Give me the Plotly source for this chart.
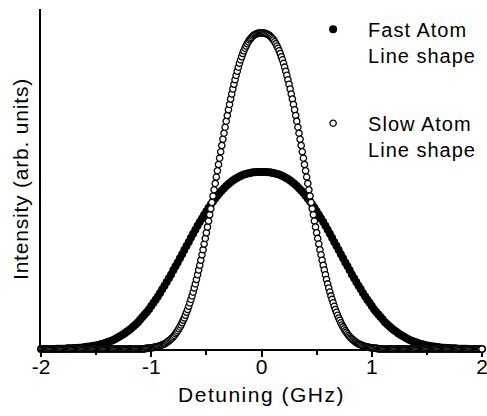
import numpy as np
import plotly.graph_objects as go

# Intensity (arb. units; slow-atom peak = 1.0)
# Fast atom line shape, sampled every 0.02 GHz from -2 to 2 GHz
intensity_fast = [
    0, 0, 0, 0, 0, 0, 0,
    0.001, 0.001, 0.001, 0.001, 0.001,
    0.002, 0.002, 0.002,
    0.003, 0.003, 0.004, 0.004, 0.005, 0.006, 0.007, 0.008, 0.009, 0.010,
    0.011, 0.013, 0.015, 0.016, 0.019, 0.021, 0.024, 0.026, 0.029, 0.033,
    0.037, 0.041, 0.045, 0.050, 0.055, 0.060, 0.066, 0.072, 0.078, 0.085,
    0.093, 0.101, 0.109, 0.117, 0.126, 0.136, 0.146, 0.156, 0.166, 0.177,
    0.189, 0.200, 0.212, 0.224, 0.236, 0.249, 0.262, 0.274, 0.287, 0.300,
    0.313, 0.326, 0.339, 0.352, 0.365, 0.377, 0.390, 0.402, 0.413, 0.425,
    0.436, 0.447, 0.457, 0.467, 0.476, 0.485, 0.494, 0.502, 0.509, 0.516,
    0.522, 0.528, 0.533, 0.538, 0.542, 0.546, 0.549, 0.552, 0.554, 0.556,
    0.557, 0.559, 0.559, 0.560, 0.560,
    0.560,
    0.560, 0.560, 0.559, 0.559, 0.557,
    0.556, 0.554, 0.552, 0.549, 0.546, 0.542, 0.538, 0.533, 0.528, 0.522,
    0.516, 0.509, 0.502, 0.494, 0.485, 0.476, 0.467, 0.457, 0.447, 0.436,
    0.425, 0.413, 0.402, 0.390, 0.377, 0.365, 0.352, 0.339, 0.326, 0.313,
    0.300, 0.287, 0.274, 0.262, 0.249, 0.236, 0.224, 0.212, 0.200, 0.189,
    0.177, 0.166, 0.156, 0.146, 0.136, 0.126, 0.117, 0.109, 0.101, 0.093,
    0.085, 0.078, 0.072, 0.066, 0.060, 0.055, 0.050, 0.045, 0.041, 0.037,
    0.033, 0.029, 0.026, 0.024, 0.021, 0.019, 0.016, 0.015, 0.013, 0.011,
    0.010, 0.009, 0.008, 0.007, 0.006, 0.005, 0.004, 0.004, 0.003, 0.003,
    0.002, 0.002, 0.002,
    0.001, 0.001, 0.001, 0.001, 0.001,
    0, 0, 0, 0, 0, 0, 0,
]

# Slow atom line shape, sampled every 0.01 GHz from -2 to 2 GHz
intensity_slow = [
    0, 0, 0, 0, 0, 0, 0, 0, 0, 0, 0, 0, 0, 0, 0, 0, 0, 0, 0, 0,
    0, 0, 0, 0, 0, 0, 0, 0, 0, 0, 0, 0, 0, 0, 0, 0, 0, 0, 0, 0,
    0, 0, 0, 0, 0, 0, 0, 0, 0, 0, 0, 0, 0, 0, 0, 0, 0, 0, 0, 0,
    0, 0, 0, 0, 0, 0, 0, 0, 0, 0, 0, 0, 0, 0, 0, 0, 0, 0, 0, 0,
    0, 0, 0, 0, 0, 0, 0, 0, 0, 0, 0, 0, 0, 0, 0,
    0.002, 0.002, 0.002, 0.003, 0.003,
    0.004, 0.004, 0.005, 0.005, 0.006, 0.007, 0.008, 0.009, 0.010, 0.012,
    0.013, 0.015, 0.016, 0.018, 0.021, 0.023, 0.026, 0.029, 0.032, 0.035,
    0.039, 0.043, 0.048, 0.053, 0.058, 0.064, 0.070, 0.076, 0.083, 0.091,
    0.098, 0.107, 0.116, 0.125, 0.135, 0.146, 0.157, 0.168, 0.180, 0.193,
    0.206, 0.220, 0.235, 0.250, 0.265, 0.281, 0.298, 0.314, 0.332, 0.350,
    0.368, 0.386, 0.405, 0.425, 0.444, 0.464, 0.484, 0.504, 0.524, 0.544,
    0.564, 0.584, 0.604, 0.624, 0.644, 0.664, 0.683, 0.702, 0.721, 0.739,
    0.757, 0.774, 0.791, 0.807, 0.823, 0.838, 0.852, 0.866, 0.879, 0.892,
    0.904, 0.915, 0.925, 0.935, 0.944, 0.952, 0.959, 0.966, 0.972, 0.978,
    0.982, 0.986, 0.990, 0.993, 0.995, 0.997, 0.998, 0.999, 1.000, 1.000,
    1.000,
    1.000, 1.000, 0.999, 0.998, 0.997, 0.995, 0.993, 0.990, 0.986, 0.982,
    0.978, 0.972, 0.966, 0.959, 0.952, 0.944, 0.935, 0.925, 0.915, 0.904,
    0.892, 0.879, 0.866, 0.852, 0.838, 0.823, 0.807, 0.791, 0.774, 0.757,
    0.739, 0.721, 0.702, 0.683, 0.664, 0.644, 0.624, 0.604, 0.584, 0.564,
    0.544, 0.524, 0.504, 0.484, 0.464, 0.444, 0.425, 0.405, 0.386, 0.368,
    0.350, 0.332, 0.314, 0.298, 0.281, 0.265, 0.250, 0.235, 0.220, 0.206,
    0.193, 0.180, 0.168, 0.157, 0.146, 0.135, 0.125, 0.116, 0.107, 0.098,
    0.091, 0.083, 0.076, 0.070, 0.064, 0.058, 0.053, 0.048, 0.043, 0.039,
    0.035, 0.032, 0.029, 0.026, 0.023, 0.021, 0.018, 0.016, 0.015, 0.013,
    0.012, 0.010, 0.009, 0.008, 0.007, 0.006, 0.005, 0.005, 0.004, 0.004,
    0.003, 0.003, 0.002, 0.002, 0.002,
    0, 0, 0, 0, 0, 0, 0, 0, 0, 0, 0, 0, 0, 0, 0, 0, 0, 0, 0, 0,
    0, 0, 0, 0, 0, 0, 0, 0, 0, 0, 0, 0, 0, 0, 0, 0, 0, 0, 0, 0,
    0, 0, 0, 0, 0, 0, 0, 0, 0, 0, 0, 0, 0, 0, 0, 0, 0, 0, 0, 0,
    0, 0, 0, 0, 0, 0, 0, 0, 0, 0, 0, 0, 0, 0, 0, 0, 0, 0, 0, 0,
    0, 0, 0, 0, 0, 0, 0, 0, 0, 0, 0, 0, 0, 0, 0,
]

assert len(intensity_fast) == 201, len(intensity_fast)
assert len(intensity_slow) == 401, len(intensity_slow)

# Detuning sample grids (GHz)
detuning_fast = np.round(np.linspace(-2.0, 2.0, len(intensity_fast)), 2)
detuning_slow = np.round(np.linspace(-2.0, 2.0, len(intensity_slow)), 2)

x_tick_values = [-2, -1, 0, 1, 2]
x_tick_labels = ["-2", "-1", "0", "1", "2"]
series_lines = [("Fast Atom", "Line shape"), ("Slow Atom", "Line shape")]
x_title = "Detuning (GHz)"
y_title = "Intensity (arb. units)"

FONT = "Liberation Sans, Arial, Helvetica, sans-serif"


def spaced(text, px):
    return '<span style="letter-spacing:%spx">%s</span>' % (px, text)


def legend_name(lines):
    return "<br>".join(spaced(t, 1) for t in lines)


fig = go.Figure()
fig.add_trace(go.Scatter(
    x=detuning_fast, y=intensity_fast, mode="markers",
    name=legend_name(series_lines[0]), legendgroup="fast",
    marker=dict(symbol="circle", size=8, color="black", line=dict(width=0)),
    cliponaxis=False,
))
fig.add_trace(go.Scatter(
    x=detuning_slow, y=intensity_slow, mode="markers",
    name=legend_name(series_lines[1]), legendgroup="slow",
    marker=dict(symbol="circle", size=6.3, color="white",
                line=dict(width=1.3, color="black")),
    cliponaxis=False,
))

fig.update_layout(
    width=487, height=416,
    margin=dict(l=41, r=5, t=9, b=67),
    paper_bgcolor="white", plot_bgcolor="white",
    font=dict(family=FONT, size=21, color="black"),
    showlegend=True,
    legend=dict(
        x=0.583, y=0.998, xanchor="left", yanchor="top",
        xref="paper", yref="paper",
        bgcolor="rgba(0,0,0,0)", borderwidth=0,
        font=dict(family=FONT, size=20, color="black"),
        itemwidth=60, valign="top", tracegroupgap=39,
    ),
    xaxis=dict(
        range=[-2, 2], tickmode="array", tickvals=x_tick_values,
        ticktext=x_tick_labels, ticks="outside", ticklen=6, tickwidth=1.5,
        tickcolor="black", showline=True, linewidth=2, linecolor="black",
        showgrid=False, zeroline=False, layer="below traces",
        automargin=False,
        ticklabelstandoff=-8, ticklabeloverflow="allow",
        minor=dict(dtick=0.5, tick0=0, ticks="outside", ticklen=4,
                   tickwidth=1.5, tickcolor="black", showgrid=False),
        tickfont=dict(family=FONT, size=21),
        title=dict(text=spaced(x_title, 1.5), standoff=10,
                   font=dict(family=FONT, size=21)),
    ),
    yaxis=dict(
        range=[0, 1.076], showticklabels=False, ticks="",
        showline=True, linewidth=2, linecolor="black",
        showgrid=False, zeroline=False, layer="below traces",
        automargin=False,
        title=dict(text=spaced(y_title, 0.8), standoff=5,
                   font=dict(family=FONT, size=21)),
    ),
)

fig.write_html("out.html")
